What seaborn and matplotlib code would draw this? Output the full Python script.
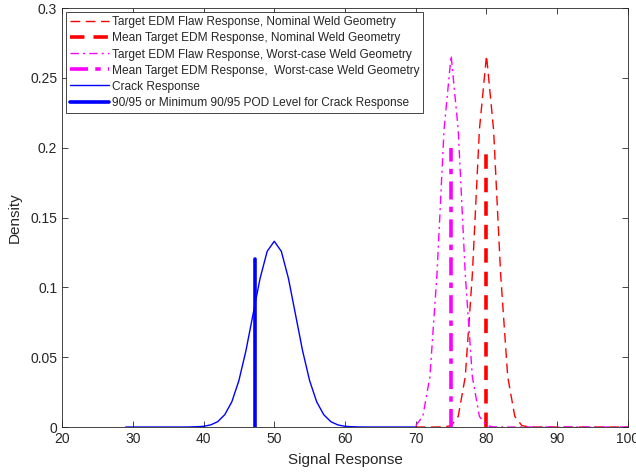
import numpy as np
import pandas as pd
import matplotlib
matplotlib.use("Agg")
import matplotlib.pyplot as plt
import seaborn as sns

# ---- data ----
crack_x = list(range(29, 71))
crack_y = [0.0, 0.0, 0.0, 0.0, 0.0, 0.0, 0.0, 0.0, 0.0, 0.00004,   # 29-38
           0.0002, 0.0005, 0.0015, 0.0038, 0.0088, 0.0180, 0.0332, 0.0547, 0.0807, 0.1065,  # 39-48
           0.1258, 0.1330, 0.1258, 0.1065, 0.0807, 0.0547, 0.0332, 0.0180, 0.0088, 0.0038,  # 49-58
           0.0015, 0.0005, 0.0002, 0.00004, 0.0, 0.0, 0.0, 0.0, 0.0, 0.0, 0.0, 0.0]  # 59-70

nominal_x = list(range(70, 101))
nominal_y = [0.0, 0.0, 0.0, 0.0, 0.0001, 0.0010, 0.0076, 0.0360, 0.1093, 0.2130,  # 70-79
             0.2660, 0.2130, 0.1093, 0.0360, 0.0076, 0.0010, 0.0001, 0.0, 0.0, 0.0,  # 80-89
             0.0, 0.0, 0.0, 0.0, 0.0, 0.0, 0.0, 0.0, 0.0, 0.0, 0.0]  # 90-100

worst_x = list(range(70, 101))
worst_y = [0.0010, 0.0076, 0.0360, 0.1093, 0.2130, 0.2660, 0.2130, 0.1093, 0.0360, 0.0076,  # 70-79
           0.0010, 0.0001, 0.0, 0.0, 0.0, 0.0, 0.0, 0.0, 0.0, 0.0,  # 80-89
           0.0, 0.0, 0.0, 0.0, 0.0, 0.0, 0.0, 0.0, 0.0, 0.0, 0.0]  # 90-100

nominal_mean_x = 80.0
nominal_mean_h = 0.2
worst_mean_x = 75.0
worst_mean_h = 0.2
pod_x = 47.3
pod_h = 0.12

labels = [
    "Target EDM Flaw Response, Nominal Weld Geometry",
    "Mean Target EDM Response, Nominal Weld Geometry",
    "Target EDM Flaw Response, Worst-case Weld Geometry",
    "Mean Target EDM Response,  Worst-case Weld Geometry",
    "Crack Response",
    "90/95 or Minimum 90/95 POD Level for Crack Response",
]
x_ticks = [20, 30, 40, 50, 60, 70, 80, 90, 100]
y_ticks = [0, 0.05, 0.1, 0.15, 0.2, 0.25, 0.3]
y_tick_labels = ["0", "0.05", "0.1", "0.15", "0.2", "0.25", "0.3"]

# ---- plotting ----
sns.set_theme(style="white")
plt.rcParams['font.family'] = ['Liberation Sans', 'DejaVu Sans']
axc = '#262626'

fig = plt.figure(figsize=(6.36, 4.72), dpi=100)
ax = fig.add_axes([0.0975, 0.0953, 0.8899, 0.8877])

sns.lineplot(x=nominal_x, y=nominal_y, ax=ax, color='red', lw=1.0,
             label=labels[0], estimator=None)
ax.lines[-1].set_dashes([7, 4])
ax.plot([nominal_mean_x, nominal_mean_x], [0, nominal_mean_h], color='red', lw=2.6,
        dashes=[4, 2.5], label=labels[1])
sns.lineplot(x=worst_x, y=worst_y, ax=ax, color='magenta', lw=1.0,
             label=labels[2], estimator=None)
ax.lines[-1].set_dashes([6, 3, 1.5, 3])
ax.plot([worst_mean_x, worst_mean_x], [0, worst_mean_h], color='magenta', lw=2.6,
        dashes=[5, 2, 1.5, 2], label=labels[3])
sns.lineplot(x=crack_x, y=crack_y, ax=ax, color='blue', lw=1.0,
             label=labels[4], estimator=None)
ax.plot([pod_x, pod_x], [0, pod_h], color='blue', lw=2.6, label=labels[5])

ax.set_xlim(20, 100)
ax.set_ylim(0, 0.3)
ax.set_xticks(x_ticks)
ax.set_xticklabels([str(t) for t in x_ticks])
ax.set_yticks(y_ticks)
ax.set_yticklabels(y_tick_labels)
ax.set_xlabel("Signal Response", fontsize=11, color=axc, labelpad=5)
ax.set_ylabel("Density", fontsize=11, color=axc, labelpad=6)
ax.tick_params(direction='in', length=4, width=0.6, colors=axc, labelsize=10,
               top=True, right=True, bottom=True, left=True)
for s in ax.spines.values():
    s.set_visible(True)
    s.set_color(axc)
    s.set_linewidth(0.6)

leg = ax.legend(loc='upper left', fontsize=8.6, frameon=True, fancybox=False,
                framealpha=1, edgecolor=axc, handlelength=3.2, handletextpad=0.25,
                borderaxespad=0.35, labelspacing=0.34, borderpad=0.35)
leg.get_frame().set_linewidth(0.6)

fig.savefig("out.png", dpi=100)
